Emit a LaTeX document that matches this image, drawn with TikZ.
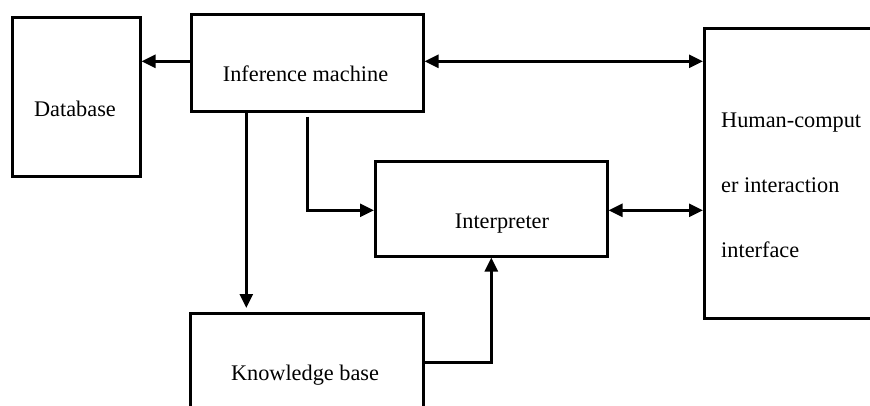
\documentclass[tikz,border=0pt]{standalone}
\usepackage{fontspec}
\setmainfont{Liberation Serif}
\usetikzlibrary{arrows.meta}
\tikzset{
  box/.style={draw, line width=2.6pt, inner sep=0pt, anchor=north west},
  lbl/.style={inner sep=0pt, font=\fontsize{22.3}{26}\selectfont},
  conn/.style={line width=2.6pt, -{Triangle[length=14pt,width=13pt]}},
  bconn/.style={line width=2.6pt, {Triangle[length=14pt,width=13pt]}-{Triangle[length=14pt,width=13pt]}}
}
\begin{document}
\begin{tikzpicture}[x=1pt,y=-1pt]
\useasboundingbox (0,0) rectangle (870,405);
\clip (0,0) rectangle (870,405);
\fill[white] (0,0) rectangle (870,405);
% boxes
\node[box, minimum width=128pt, minimum height=159pt] (db) at (11,16) {};
\node[box, minimum width=232pt, minimum height=97pt] (inf) at (190,13) {};
\node[box, minimum width=232pt, minimum height=95pt] (interp) at (374,160) {};
\node[box, minimum width=233pt, minimum height=120pt] (kb) at (189,312) {};
\node[box, minimum width=180pt, minimum height=290pt] (hci) at (703,27) {};
% texts
\node[lbl, anchor=base] (dbt) at (75,116) {Database};
\node[lbl, anchor=base] (inft) at (305.5,81) {Inference machine};
\node[lbl, anchor=base] (interpt) at (502,228) {Interpreter};
\node[lbl, anchor=base] (kbt) at (305,380) {Knowledge base};
\node[lbl, anchor=base west] (hci1) at (721,127) {Human-comput};
\node[lbl, anchor=base west] (hci2) at (721,192) {er interaction};
\node[lbl, anchor=base west] (hci3) at (721,257) {interface};
% connectors
\coordinate (infw) at ([yshift=1.5pt]inf.west);
\draw[conn] (infw) -- (infw -| db.east);
\coordinate (infe) at ([yshift=1.5pt]inf.east);
\draw[bconn] (infe) -- (infe -| hci.west);
\coordinate (infs1) at ([xshift=-61pt]inf.south);
\draw[conn, shorten >=4pt] (infs1) -- (infs1 |- kb.north);
\coordinate (infs2) at ([yshift=-4pt]inf.south);
\coordinate (interpw) at ([yshift=-1.5pt]interp.west);
\draw[conn] (infs2) |- (interpw);
\coordinate (kbe) at ([yshift=11pt]kb.east);
\draw[conn] (kbe) -| (interp.south);
\coordinate (interpe) at ([yshift=-1.5pt]interp.east);
\draw[bconn] (interpe) -- (interpe -| hci.west);
\end{tikzpicture}
\end{document}
